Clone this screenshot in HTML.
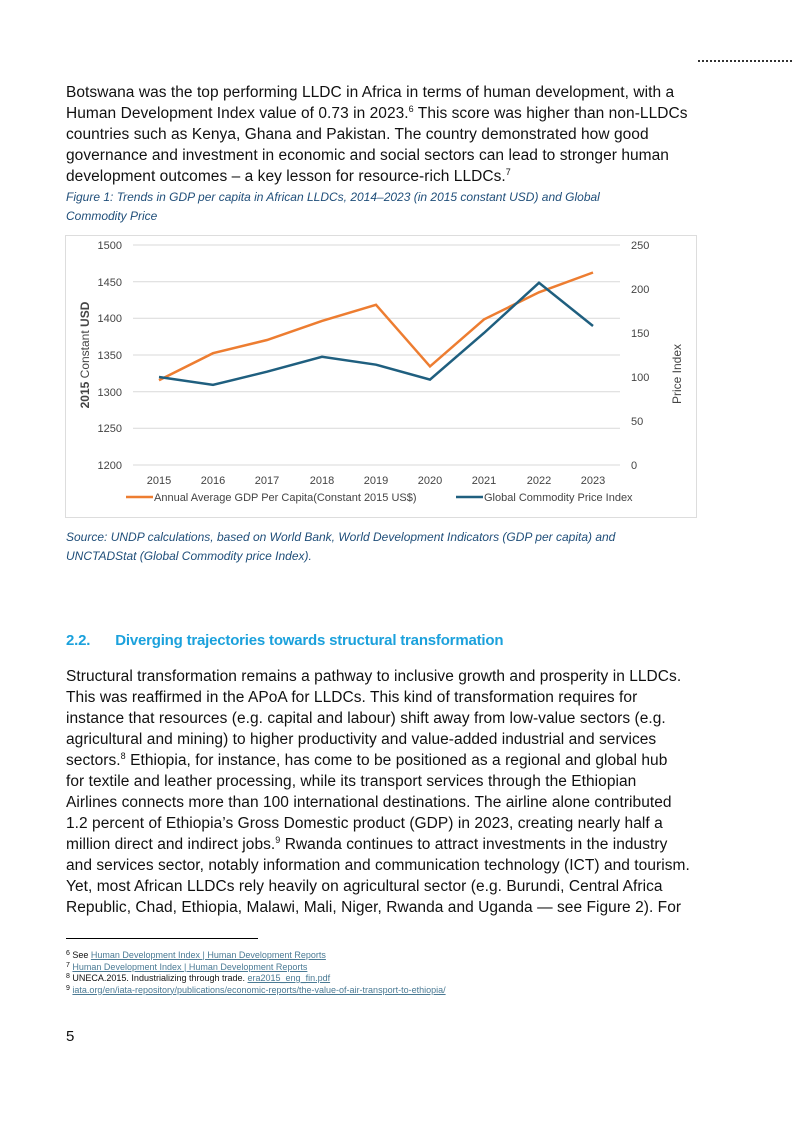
<!DOCTYPE html>
<html><head><meta charset="utf-8"><style>
body{margin:0;background:#fff;}
.page{position:relative;width:793px;height:1121px;font-family:"Liberation Sans",sans-serif;color:#111;}
.p{position:absolute;left:66px;font-size:15.5px;line-height:21px;white-space:nowrap;letter-spacing:0.05px;}
.p sup,.fn sup{font-size:9px;line-height:0;vertical-align:6px;}
.cap{position:absolute;left:66px;font-size:12px;line-height:19px;font-style:italic;color:#1f4e79;white-space:nowrap;}
.fn{position:absolute;left:66px;font-size:9px;line-height:11.5px;white-space:nowrap;}
.fn div{height:11.5px;}
.fn sup{font-size:7px;vertical-align:3px;}
.fn a{color:#4a7a94;text-decoration:underline;}
</style></head><body><div class="page">
<div style="position:absolute;left:698px;top:60px;width:94px;border-top:2px dotted #333"></div>
<div class="p" style="top:82px">Botswana was the top performing LLDC in Africa in terms of human development, with a<br>Human Development Index value of 0.73 in 2023.<sup>6</sup> This score was higher than non-LLDCs<br>countries such as Kenya, Ghana and Pakistan. The country demonstrated how good<br>governance and investment in economic and social sectors can lead to stronger human<br>development outcomes – a key lesson for resource-rich LLDCs.<sup>7</sup></div>
<div class="cap" style="top:188px">Figure 1: Trends in GDP per capita in African LLDCs, 2014–2023 (in 2015 constant USD) and Global<br>Commodity Price</div>
<svg style="position:absolute;left:0;top:0" width="793" height="1121" font-family="Liberation Sans, sans-serif">
<rect x="65.5" y="235.5" width="631" height="282" fill="none" stroke="#ddd"/>
<g stroke="#d9d9d9" stroke-width="1">
<line x1="133" x2="620" y1="245" y2="245"/><line x1="133" x2="620" y1="281.7" y2="281.7"/>
<line x1="133" x2="620" y1="318.3" y2="318.3"/><line x1="133" x2="620" y1="355" y2="355"/>
<line x1="133" x2="620" y1="391.7" y2="391.7"/><line x1="133" x2="620" y1="428.3" y2="428.3"/>
<line x1="133" x2="620" y1="465" y2="465"/></g>
<g font-size="11" fill="#444" text-anchor="end">
<text x="122" y="249">1500</text><text x="122" y="286">1450</text><text x="122" y="322">1400</text>
<text x="122" y="359">1350</text><text x="122" y="396">1300</text><text x="122" y="432">1250</text><text x="122" y="469">1200</text></g>
<g font-size="11" fill="#444">
<text x="631" y="249">250</text><text x="631" y="293">200</text><text x="631" y="337">150</text>
<text x="631" y="381">100</text><text x="631" y="425">50</text><text x="631" y="469">0</text></g>
<g font-size="11" fill="#444" text-anchor="middle">
<text x="159" y="484">2015</text><text x="213" y="484">2016</text><text x="267" y="484">2017</text>
<text x="322" y="484">2018</text><text x="376" y="484">2019</text><text x="430" y="484">2020</text>
<text x="484" y="484">2021</text><text x="539" y="484">2022</text><text x="593" y="484">2023</text></g>
<text transform="translate(89,355) rotate(-90)" font-size="12" fill="#444" text-anchor="middle"><tspan font-weight="bold">2015</tspan> Constant <tspan font-weight="bold">USD</tspan></text>
<text transform="translate(681,374) rotate(-90)" font-size="12" fill="#444" text-anchor="middle">Price Index</text>
<polyline fill="none" stroke="#ed7d31" stroke-width="2.5" points="159,380.3 213,353.2 267,340 322,320.9 376,304.8 430,366.4 484,319.4 539,292.3 593,272.5"/>
<polyline fill="none" stroke="#1f5f7f" stroke-width="2.5" points="159,377 213,384.9 267,371.7 322,356.8 376,364.7 430,379.6 484,333 539,282.8 593,326"/>
<line x1="126" x2="153" y1="497" y2="497" stroke="#ed7d31" stroke-width="2.5"/>
<text x="154" y="501" font-size="11" fill="#444">Annual Average GDP Per Capita(Constant 2015 US$)</text>
<line x1="456" x2="483" y1="497" y2="497" stroke="#1f5f7f" stroke-width="2.5"/>
<text x="484" y="501" font-size="11" fill="#444">Global Commodity Price Index</text>
</svg>
<div class="cap" style="top:528px">Source: UNDP calculations, based on World Bank, World Development Indicators (GDP per capita) and<br>UNCTADStat (Global Commodity price Index).</div>
<div style="position:absolute;left:66px;top:632px;font-size:15px;font-weight:bold;color:#1ba1dc;letter-spacing:-0.2px">2.2.<span style="display:inline-block;width:25px"></span>Diverging trajectories towards structural transformation</div>
<div class="p" style="top:666px">Structural transformation remains a pathway to inclusive growth and prosperity in LLDCs.<br>This was reaffirmed in the APoA for LLDCs. This kind of transformation requires for<br>instance that resources (e.g. capital and labour) shift away from low-value sectors (e.g.<br>agricultural and mining) to higher productivity and value-added industrial and services<br>sectors.<sup>8</sup> Ethiopia, for instance, has come to be positioned as a regional and global hub<br>for textile and leather processing, while its transport services through the Ethiopian<br>Airlines connects more than 100 international destinations. The airline alone contributed<br>1.2 percent of Ethiopia’s Gross Domestic product (GDP) in 2023, creating nearly half a<br>million direct and indirect jobs.<sup>9</sup> Rwanda continues to attract investments in the industry<br>and services sector, notably information and communication technology (ICT) and tourism.<br>Yet, most African LLDCs rely heavily on agricultural sector (e.g. Burundi, Central Africa<br>Republic, Chad, Ethiopia, Malawi, Mali, Niger, Rwanda and Uganda — see Figure 2). For</div>
<div style="position:absolute;left:66px;top:938px;width:192px;border-top:1px solid #000"></div>
<div class="fn" style="top:950px"><div><sup>6</sup> See <a>Human Development Index | Human Development Reports</a></div><div><sup>7</sup> <a>Human Development Index | Human Development Reports</a></div><div><sup>8</sup> UNECA.2015. Industrializing through trade. <a>era2015_eng_fin.pdf</a></div><div><sup>9</sup> <a>iata.org/en/iata-repository/publications/economic-reports/the-value-of-air-transport-to-ethiopia/</a></div></div>
<div style="position:absolute;left:66px;top:1028px;font-size:15px">5</div>
</div></body></html>
